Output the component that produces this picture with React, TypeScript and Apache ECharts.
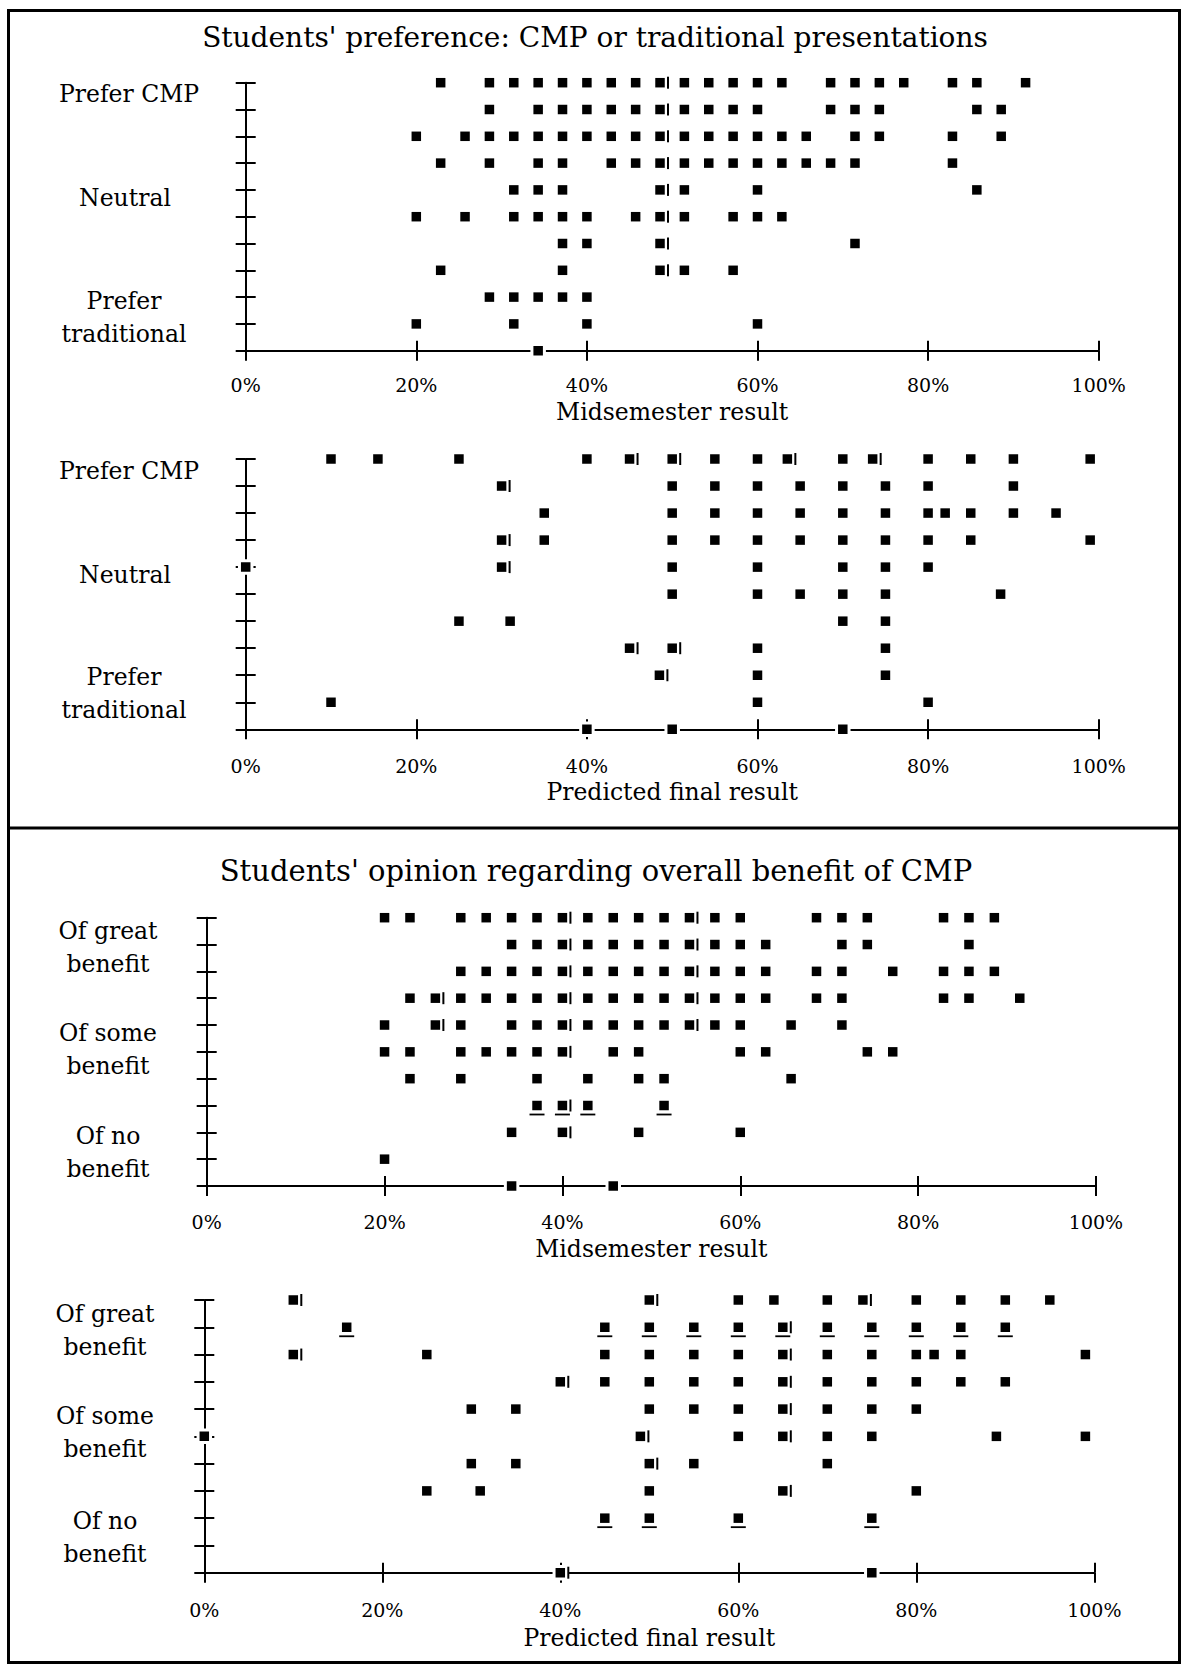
import React, { useEffect, useRef } from "react";
import * as echarts from "echarts";

// ---------- data ----------
// Preference levels: 10 = Prefer CMP ... 1 = Prefer traditional, 0 = on axis
const levels = [0, 1, 2, 3, 4, 5, 6, 7, 8, 9, 10];

// Midsemester results are marks out of 35 (axis labelled in %)
const midsemesterMax = 35;
const midTicks = [0, 7, 14, 21, 28, 35];
const pctTicks = [0, 20, 40, 60, 80, 100];

// Chart 1: preference vs midsemester mark (index = level 0..10)
const prefMidByLevel: number[][] = [
  [12],
  [7, 11, 14, 21],
  [10, 11, 12, 13, 14],
  [8, 13, 17, 18, 20],
  [13, 14, 17, 25],
  [7, 9, 11, 12, 13, 14, 16, 17, 18, 20, 21, 22],
  [11, 12, 13, 17, 18, 21, 30],
  [8, 10, 12, 13, 15, 16, 17, 18, 19, 20, 21, 22, 23, 24, 25, 29],
  [7, 9, 10, 11, 12, 13, 14, 15, 16, 17, 18, 19, 20, 21, 22, 23, 25, 26, 29, 31],
  [10, 12, 13, 14, 15, 16, 17, 18, 19, 20, 21, 24, 25, 26, 30, 31],
  [8, 10, 11, 12, 13, 14, 15, 16, 17, 18, 19, 20, 21, 22, 24, 25, 26, 27, 29, 30, 32],
];
const prefMidBars: number[][] = [
  [17, 3], [17, 4], [17, 5], [17, 6], [17, 7], [17, 8], [17, 9], [17, 10],
];

// Chart 2: preference vs predicted final result (%)
const prefFinalByLevel: number[][] = [
  [40, 50, 70],
  [10, 60, 80],
  [48.5, 60, 75],
  [45, 50, 60, 75],
  [25, 31, 70, 75],
  [50, 60, 65, 70, 75, 88.5],
  [0, 30, 50, 60, 70, 75, 80],
  [30, 35, 50, 55, 60, 65, 70, 75, 80, 85, 99],
  [35, 50, 55, 60, 65, 70, 75, 80, 82, 85, 90, 95],
  [30, 50, 55, 60, 65, 70, 75, 80, 90],
  [10, 15.5, 25, 40, 45, 50, 55, 60, 63.5, 70, 73.5, 80, 85, 90, 99],
];
const prefFinalBars: number[][] = [
  [45, 10], [50, 10], [63.5, 10], [73.5, 10], [30, 9], [30, 7], [30, 6],
  [45, 3], [50, 3], [48.5, 2],
];

// Chart 3: benefit vs midsemester mark
const benefitMidByLevel: number[][] = [
  [12, 16],
  [7],
  [12, 14, 17, 21],
  [13, 14, 15, 18],
  [8, 10, 13, 15, 17, 18, 23],
  [7, 8, 10, 11, 12, 13, 14, 16, 17, 21, 22, 26, 27],
  [7, 9, 10, 12, 13, 14, 15, 16, 17, 18, 19, 20, 21, 23, 25],
  [8, 9, 10, 11, 12, 13, 14, 15, 16, 17, 18, 19, 20, 21, 22, 24, 25, 29, 30, 32],
  [10, 11, 12, 13, 14, 15, 16, 17, 18, 19, 20, 21, 22, 24, 25, 27, 29, 30, 31],
  [12, 13, 14, 15, 16, 17, 18, 19, 20, 21, 22, 25, 26, 30],
  [7, 8, 10, 11, 12, 13, 14, 15, 16, 17, 18, 19, 20, 21, 24, 25, 26, 29, 30, 31],
];
const benefitMidBars: number[][] = [
  [14, 10], [14, 9], [14, 8], [14, 7], [14, 6], [14, 5], [14, 3], [14, 2],
  [19, 10], [19, 9], [19, 8], [19, 7], [19, 6], [9, 7], [9, 6],
];
const benefitMidUnderlined: number[][] = [[13, 3], [14, 3], [15, 3], [18, 3]];

// Chart 4: benefit vs predicted final result (%)
const benefitFinalByLevel: number[][] = [
  [40, 75],
  [],
  [45, 50, 60, 75],
  [25, 31, 50, 65, 80],
  [30, 35, 50, 55, 70],
  [0, 49, 60, 65, 70, 75, 89, 99],
  [30, 35, 50, 55, 60, 65, 70, 75, 80],
  [40, 45, 50, 55, 60, 65, 70, 75, 80, 85, 90],
  [10, 25, 45, 50, 55, 60, 65, 70, 75, 80, 82, 85, 99],
  [16, 45, 50, 55, 60, 65, 70, 75, 80, 85, 90],
  [10, 50, 60, 64, 70, 74, 80, 85, 90, 95],
];
const benefitFinalBars: number[][] = [
  [10, 10], [50, 10], [74, 10], [65, 9], [10, 8], [65, 8], [40, 7], [65, 7],
  [65, 6], [49, 5], [65, 5], [50, 4], [65, 3], [40, 0],
];
const benefitFinalUnderlined: number[][] = [
  [16, 9], [45, 9], [50, 9], [55, 9], [60, 9], [65, 9], [70, 9], [75, 9], [80, 9], [85, 9], [90, 9],
  [45, 2], [50, 2], [60, 2], [75, 2],
];

const titles = [
  "Students' preference: CMP or traditional presentations",
  "Students' opinion regarding overall benefit of CMP",
];
const xNames = ["Midsemester result", "Predicted final result", "Midsemester result", "Predicted final result"];
const prefLabels = ["Prefer CMP", "Neutral", "Prefer\ntraditional"];
const benefitLabels = ["Of great\nbenefit", "Of some\nbenefit", "Of no\nbenefit"];

// ---------- styling / layout ----------
const FONT = "'DejaVu Serif', 'Liberation Serif', serif";
const INK = "#000000";

const grids = [
  { left: 245.7, top: 82.7, width: 853, height: 268 },
  { left: 245.7, top: 459, width: 853, height: 270.3 },
  { left: 206.7, top: 917.7, width: 889.3, height: 268.3 },
  { left: 204.3, top: 1300, width: 890, height: 272.7 },
];

function toPoints(rows: number[][]) {
  const pts: any[] = [];
  rows.forEach((xs, i) =>
    xs.forEach((x) => {
      const lv = levels[i];
      if (lv === 0 || x === 0) {
        // dots sitting on an axis interrupt the axis line
        pts.push({
          value: [x, lv],
          symbolSize: 12.5,
          itemStyle: { color: INK, borderColor: "#ffffff", borderWidth: 3, opacity: 1 },
        });
      } else {
        pts.push([x, lv]);
      }
    })
  );
  return pts;
}

function makeX(gridIndex: number, isMid: boolean, name: string, nameGap: number, labelMargin: number) {
  const max = isMid ? midsemesterMax : 100;
  const interval = isMid ? midTicks[1] : pctTicks[1];
  const base = {
    type: "value",
    gridIndex,
    min: 0,
    max,
    interval,
    position: "bottom",
    offset: 0,
    splitLine: { show: false },
  };
  return [
    {
      ...base,
      axisLine: { show: true, onZero: false, lineStyle: { color: INK, width: 2 } },
      axisTick: { show: true, length: 10, inside: false, lineStyle: { color: INK, width: 2 } },
      axisLabel: {
        show: true,
        margin: labelMargin,
        fontFamily: FONT,
        fontSize: 19,
        color: INK,
        formatter: (v: number) =>
          isMid ? pctTicks[midTicks.indexOf(v)] + "%" : v + "%",
      },
      name,
      nameLocation: "middle",
      nameGap,
      nameTextStyle: { fontFamily: FONT, fontSize: 23.5, color: INK },
    },
    {
      ...base,
      axisLine: { show: false },
      axisTick: { show: true, length: 10, inside: true, lineStyle: { color: INK, width: 2 } },
      axisLabel: { show: false },
    },
  ];
}

function makeY(gridIndex: number) {
  const base = {
    type: "value",
    gridIndex,
    min: levels[0],
    max: levels[levels.length - 1],
    interval: 1,
    position: "left",
    offset: 0,
    splitLine: { show: false },
    axisLabel: { show: false },
  };
  return [
    {
      ...base,
      axisLine: { show: true, onZero: false, lineStyle: { color: INK, width: 2 } },
      axisTick: { show: true, length: 10, inside: false, lineStyle: { color: INK, width: 2 } },
    },
    {
      ...base,
      axisLine: { show: false },
      axisTick: { show: true, length: 10, inside: true, lineStyle: { color: INK, width: 2 } },
    },
  ];
}

function seriesFor(gi: number, rows: number[][], bars: number[][], unders: number[][]) {
  const common = { type: "scatter", xAxisIndex: gi * 2, yAxisIndex: gi * 2, silent: true };
  return [
    {
      ...common,
      name: "dots" + gi,
      data: toPoints(rows),
      symbol: "rect",
      symbolSize: 9.5,
      itemStyle: { color: INK, opacity: 1 },
      z: 5,
    },
    {
      ...common,
      name: "marks" + gi,
      data: bars,
      symbol: "rect",
      symbolSize: [2, 12],
      symbolOffset: [8, 0],
      itemStyle: { color: INK, opacity: 1 },
      z: 6,
    },
    {
      ...common,
      name: "under" + gi,
      data: unders,
      symbol: "rect",
      symbolSize: [15, 1.8],
      symbolOffset: [0, 9],
      itemStyle: { color: INK, opacity: 1 },
      z: 6,
    },
  ];
}

function labelText(text: string, x: number, y: number) {
  return {
    type: "text",
    x,
    y,
    style: {
      text,
      fontFamily: FONT,
      fontSize: 23.5,
      lineHeight: 33,
      fill: INK,
      align: "center",
      verticalAlign: "middle",
    },
  };
}

export default function App() {
  const ref = useRef<HTMLDivElement>(null);

  useEffect(() => {
    document.body.style.margin = "0";
    if (!ref.current) return;
    const chart = echarts.init(ref.current, undefined, { renderer: "svg" });

    const xAxis = [
      ...makeX(0, true, xNames[0], 49, 25),
      ...makeX(1, false, xNames[1], 51, 27),
      ...makeX(2, true, xNames[2], 51, 26),
      ...makeX(3, false, xNames[3], 53, 28),
    ];
    const yAxis = [...makeY(0), ...makeY(1), ...makeY(2), ...makeY(3)];

    const series = [
      ...seriesFor(0, prefMidByLevel, prefMidBars, []),
      ...seriesFor(1, prefFinalByLevel, prefFinalBars, []),
      ...seriesFor(2, benefitMidByLevel, benefitMidBars, benefitMidUnderlined),
      ...seriesFor(3, benefitFinalByLevel, benefitFinalBars, benefitFinalUnderlined),
    ];

    const graphic = [
      {
        type: "rect",
        shape: { x: 8.5, y: 10.5, width: 1171, height: 1652 },
        style: { fill: "none", stroke: INK, lineWidth: 3 },
      },
      {
        type: "line",
        shape: { x1: 8.5, y1: 828, x2: 1180, y2: 828 },
        style: { stroke: INK, lineWidth: 3 },
      },
      {
        type: "text",
        x: 595,
        y: 37,
        style: { text: titles[0], fontFamily: FONT, fontSize: 28, fill: INK, align: "center", verticalAlign: "middle" },
      },
      {
        type: "text",
        x: 596,
        y: 871,
        style: { text: titles[1], fontFamily: FONT, fontSize: 29, fill: INK, align: "center", verticalAlign: "middle" },
      },
      labelText(prefLabels[0], 129, 94),
      labelText(prefLabels[1], 125, 198),
      labelText(prefLabels[2], 124, 317),
      labelText(prefLabels[0], 129, 471),
      labelText(prefLabels[1], 125, 575),
      labelText(prefLabels[2], 124, 693),
      labelText(benefitLabels[0], 108, 947),
      labelText(benefitLabels[1], 108, 1049),
      labelText(benefitLabels[2], 108, 1152),
      labelText(benefitLabels[0], 105, 1330),
      labelText(benefitLabels[1], 105, 1432),
      labelText(benefitLabels[2], 105, 1537),
    ];

    chart.setOption({
      animation: false,
      backgroundColor: "#ffffff",
      grid: grids.map((g) => ({ ...g, containLabel: false })),
      xAxis,
      yAxis,
      series,
      graphic,
    });

    return () => {
      chart.dispose();
    };
  }, []);

  return (
    <div
      ref={ref}
      style={{ position: "absolute", left: 0, top: 0, width: 1182, height: 1670, background: "#fff" }}
    />
  );
}
